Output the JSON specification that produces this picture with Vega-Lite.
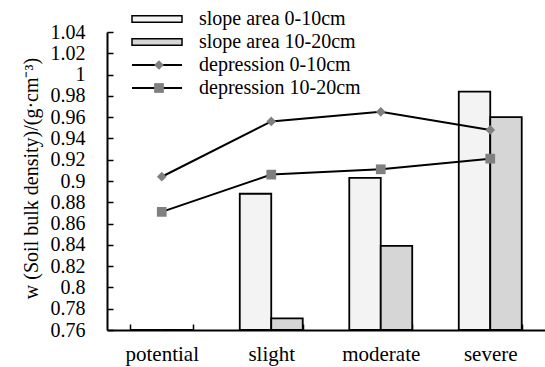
{
  "$schema": "https://vega.github.io/schema/vega-lite/v6.json",
  "autosize": "none",
  "width": 438,
  "height": 298,
  "padding": {"left": 107, "top": 32, "right": 0, "bottom": 37},
  "background": "white",
  "config": {
    "view": {"stroke": null},
    "font": "Liberation Serif",
    "style": {
      "guide-label": {"font": "Liberation Serif", "fontSize": 20, "fill": "black"},
      "guide-title": {"font": "Liberation Serif", "fontSize": 20, "fill": "black", "fontWeight": "normal"}
    },
    "axis": {
      "domainColor": "black", "domainWidth": 2, "tickColor": "black", "tickWidth": 1.5,
      "labelFont": "Liberation Serif", "labelColor": "black",
      "titleFont": "Liberation Serif", "titleFontSize": 20, "titleColor": "black", "titleFontWeight": "normal",
      "grid": false
    },
    "legend": {
      "labelFont": "Liberation Serif", "labelFontSize": 20, "labelColor": "black", "labelLimit": 400,
      "orient": "none", "title": null, "padding": 0, "rowPadding": 3
    }
  },
  "datasets": {
    "bars": [
      {"degree": "potential", "series": "slope area 0-10cm", "value": 0.76},
      {"degree": "potential", "series": "slope area 10-20cm", "value": 0.76},
      {"degree": "slight", "series": "slope area 0-10cm", "value": 0.888},
      {"degree": "slight", "series": "slope area 10-20cm", "value": 0.771},
      {"degree": "moderate", "series": "slope area 0-10cm", "value": 0.903},
      {"degree": "moderate", "series": "slope area 10-20cm", "value": 0.839},
      {"degree": "severe", "series": "slope area 0-10cm", "value": 0.984},
      {"degree": "severe", "series": "slope area 10-20cm", "value": 0.96}
    ],
    "lines": [
      {"degree": "potential", "line": "depression 0-10cm", "value": 0.904},
      {"degree": "slight", "line": "depression 0-10cm", "value": 0.956},
      {"degree": "moderate", "line": "depression 0-10cm", "value": 0.965},
      {"degree": "severe", "line": "depression 0-10cm", "value": 0.948},
      {"degree": "potential", "line": "depression 10-20cm", "value": 0.871},
      {"degree": "slight", "line": "depression 10-20cm", "value": 0.906},
      {"degree": "moderate", "line": "depression 10-20cm", "value": 0.911},
      {"degree": "severe", "line": "depression 10-20cm", "value": 0.921}
    ]
  },
  "encoding": {
    "x": {
      "field": "degree", "type": "nominal",
      "sort": ["potential", "slight", "moderate", "severe"],
      "scale": {"paddingInner": 0.425, "paddingOuter": 0.2125},
      "axis": {"title": null, "labelAngle": 0, "tickBand": "extent", "tickSize": -6, "labelPadding": 19,
        "labelFont": "Liberation Serif", "labelFontSize": 21}
    },
    "y": {
      "field": "value", "type": "quantitative",
      "scale": {"domain": [0.76, 1.04], "zero": false, "nice": false},
      "axis": {
        "title": "w (Soil bulk density)/(g·cm⁻³)",
        "values": [0.76, 0.78, 0.8, 0.82, 0.84, 0.86, 0.88, 0.9, 0.92, 0.94, 0.96, 0.98, 1, 1.02, 1.04],
        "format": "~g", "tickSize": -6, "labelPadding": 28,
        "labelFont": "Liberation Serif", "labelFontSize": 20,
        "titleFont": "Liberation Serif", "titleFontSize": 20,
        "titleX": -76, "titleY": 146, "titleBaseline": "middle", "titleAngle": 270
      }
    }
  },
  "layer": [
    {
      "data": {"name": "bars"},
      "mark": {"type": "bar", "stroke": "black", "strokeWidth": 1.8},
      "encoding": {
        "xOffset": {
          "field": "series", "type": "nominal",
          "sort": ["slope area 0-10cm", "slope area 10-20cm"],
          "scale": {"paddingInner": 0, "paddingOuter": 0}
        },
        "y2": {"datum": 0.76},
        "fill": {
          "field": "series", "type": "nominal",
          "scale": {"domain": ["slope area 0-10cm", "slope area 10-20cm"], "range": ["#f3f3f3", "#d6d6d6"]},
          "legend": {
            "legendX": 26, "legendY": -23,
            "symbolType": "M-5,-0.65H5V0.65H-5Z", "symbolSize": 100, "symbolOffset": 14, "labelOffset": 32,
            "symbolStrokeColor": "black", "symbolStrokeWidth": 1.5, "symbolOpacity": 1
          }
        }
      }
    },
    {
      "data": {"name": "lines"},
      "mark": {"type": "line", "strokeWidth": 2},
      "encoding": {
        "stroke": {
          "field": "line", "type": "nominal",
          "scale": {"domain": ["depression 0-10cm", "depression 10-20cm"], "range": ["black", "black"]},
          "legend": {
            "legendX": 26, "legendY": 23,
            "symbolType": "M-5,0H5", "symbolSize": 100, "symbolOffset": 14, "labelOffset": 32,
            "symbolStrokeWidth": 2
          }
        }
      }
    },
    {
      "data": {"name": "lines"},
      "mark": {"type": "point", "filled": true, "size": 95, "color": "#808080", "opacity": 1},
      "encoding": {
        "shape": {
          "field": "line", "type": "nominal",
          "scale": {"range": ["diamond", "square"]},
          "legend": {
            "legendX": 26, "legendY": 23, "symbolOffset": 16,
            "symbolSize": 95, "symbolFillColor": "#808080", "symbolStrokeWidth": 0,
            "labelExpr": "''"
          }
        }
      }
    }
  ]
}
